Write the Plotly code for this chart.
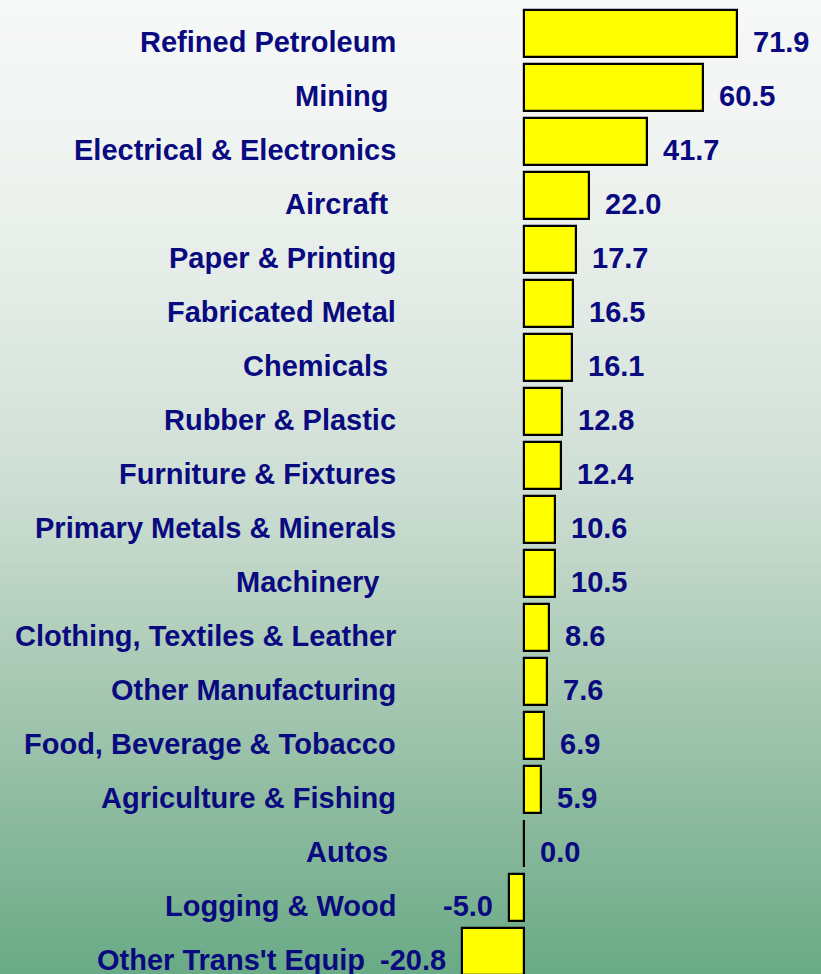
import plotly.graph_objects as go

categories = [
    "Refined Petroleum", "Mining\u00a0", "Electrical & Electronics", "Aircraft\u00a0",
    "Paper & Printing", "Fabricated Metal", "Chemicals\u00a0", "Rubber & Plastic",
    "Furniture & Fixtures", "Primary Metals & Minerals", "Machinery\u00a0\u00a0",
    "Clothing, Textiles & Leather", "Other Manufacturing", "Food, Beverage & Tobacco",
    "Agriculture & Fishing", "Autos\u00a0", "Logging & Wood", "Other Trans't Equip",
]
values = [71.9, 60.5, 41.7, 22.0, 17.7, 16.5, 16.1, 12.8, 12.4, 10.6, 10.5,
          8.6, 7.6, 6.9, 5.9, 0.0, -5.0, -20.8]

W, H = 821, 974
NAVY = "#0a0a80"
FONT = "Liberation Sans"
FS = 29

pos = list(range(len(categories)))

fig = go.Figure()
fig.add_trace(go.Bar(
    x=values, y=pos, orientation="h", width=0.865,
    marker=dict(color="#ffff00", line=dict(color="#000000", width=2.2)),
    hoverinfo="skip",
))

# gradient background
stops = [(0.0, (247, 248, 248)), (0.12, (242, 245, 243)), (0.3, (228, 236, 231)),
         (0.5, (206, 222, 212)), (0.7, (168, 201, 180)), (0.85, (138, 185, 157)),
         (1.0, (106, 170, 134))]

def col(t):
    for (t0, c0), (t1, c1) in zip(stops[:-1], stops[1:]):
        if t0 <= t <= t1:
            f = (t - t0) / (t1 - t0)
            return "rgb(%d,%d,%d)" % tuple(round(a + (b - a) * f) for a, b in zip(c0, c1))
    return "rgb(%d,%d,%d)" % stops[-1][1]

N = 160
shapes = []
for k in range(N):
    y0 = 1 - k / N
    y1 = 1 - (k + 1) / N
    shapes.append(dict(type="rect", xref="paper", yref="paper", x0=0, x1=1,
                       y0=y1, y1=y0 + 0.001, fillcolor=col((k + 0.5) / N),
                       line=dict(width=0), layer="below"))

zero_px = 524
scale = 2.96
# approximate bold Arial advance widths (em/1000) for value labels
CW = {"-": 333, ".": 278}

def text_w(s):
    return sum(CW.get(ch, 556) for ch in s) * FS / 1000

annotations = []
for i, (c, v) in enumerate(zip(categories, values)):
    vt = "%.1f" % v
    label_right = 398
    if v < 0:
        val_left = zero_px + v * scale - 14 - text_w(vt)
        label_right = min(label_right, val_left - 15)
    annotations.append(dict(
        x=label_right / W, xref="paper", y=i, yref="y", text=c,
        xanchor="right", yanchor="middle", yshift=-8, showarrow=False,
        font=dict(family=FONT, size=FS, color=NAVY, weight="bold")))
    annotations.append(dict(
        x=v, xref="x", y=i, yref="y", text=vt,
        xanchor="left" if v >= 0 else "right", yanchor="middle",
        xshift=14 if v >= 0 else -14, yshift=-8, showarrow=False,
        font=dict(family=FONT, size=FS, color=NAVY, weight="bold")))

fig.update_layout(
    width=W, height=H, margin=dict(l=0, r=0, t=0, b=0),
    paper_bgcolor="rgba(0,0,0,0)", plot_bgcolor="rgba(0,0,0,0)",
    showlegend=False, shapes=shapes, annotations=annotations, bargap=0,
    xaxis=dict(range=[-zero_px / scale, (W - zero_px) / scale], visible=False,
               fixedrange=True),
    yaxis=dict(range=[(H - 33.5) / 54, -33.5 / 54], visible=False, fixedrange=True),
)

fig.write_html("out.html", config={"displayModeBar": False},
               post_script="document.body.style.margin='0';document.body.style.overflow='hidden';")
